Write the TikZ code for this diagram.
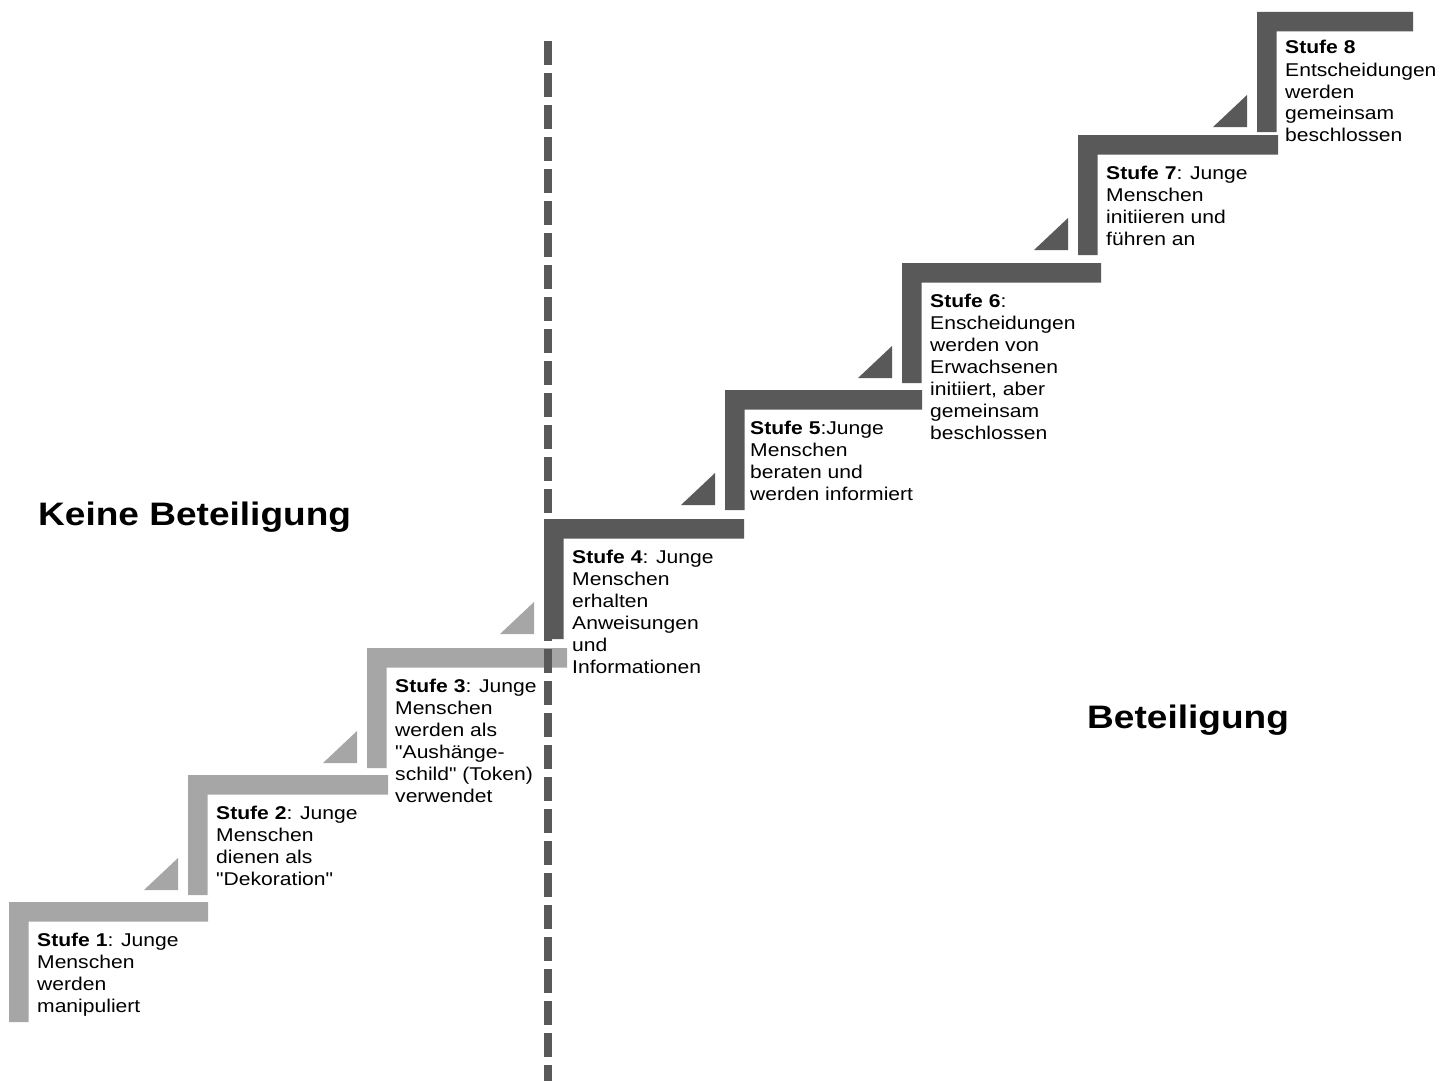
\documentclass[tikz,border=0pt]{standalone}
\usepackage{fontspec}
\setmainfont{Liberation Sans}[FakeStretch=1.14, Ligatures=TeXOff]
\definecolor{lightstep}{HTML}{A6A6A6}
\definecolor{darkstep}{HTML}{595959}
\tikzset{
  steptxt/.style={anchor=base west, inner sep=0pt},
  heading/.style={anchor=base west, inner sep=0pt, font=\fontsize{32.5}{38}\selectfont\bfseries},
  divider/.style={draw=darkstep, line width=8pt, dash pattern=on 24pt off 8pt},
}
% #1 X, #2 Y (top left), #3 bar length, #4 colour
\newcommand\stairbar[4]{%
  \fill[#4] (#1,#2) -- (#1+#3,#2) -- (#1+#3,#2+19.5) -- (#1+19.5,#2+19.5)
    -- (#1+19.5,#2+120) -- (#1,#2+120) -- cycle;}
\newcommand\stairtri[3]{%
  \fill[#3] (#1-44,#2+115) -- (#1-10,#2+115) -- (#1-10,#2+83) -- cycle;}
\newcommand\stairtext[4]{%
  \node[steptxt] (#3) at (#1+28,#2+44)
    {\parbox[t]{230pt}{\fontsize{18.5}{22}\selectfont\raggedright #4}};}
\begin{document}
\begin{tikzpicture}[x=1pt,y=-1pt]
  % steps (bars)
  \stairbar{9}{902}{199}{lightstep}
  \stairbar{188}{775}{200}{lightstep}
  \stairbar{367}{648}{200}{lightstep}
  \stairbar{544}{519}{200}{darkstep}
  \stairbar{725}{390}{197}{darkstep}
  \stairbar{902}{263}{199}{darkstep}
  \stairbar{1078}{135}{200}{darkstep}
  \stairbar{1257}{12}{156}{darkstep}
  % triangles
  \stairtri{188}{775}{lightstep}
  \stairtri{367}{648}{lightstep}
  \stairtri{544}{519}{lightstep}
  \stairtri{725}{390}{darkstep}
  \stairtri{902}{263}{darkstep}
  \stairtri{1078}{135}{darkstep}
  \stairtri{1257}{12}{darkstep}
  % dividing line
  \coordinate (dtop) at (548,41);
  \coordinate (dbot) at (548,1095);
  \draw[divider] (dtop) -- (dbot);
  % texts
  \stairtext{9}{902}{s1}{\textbf{Stufe 1}: Junge\\Menschen\\werden\\manipuliert}
  \stairtext{188}{775}{s2}{\textbf{Stufe 2}: Junge\\Menschen\\dienen als\\"Dekoration"}
  \stairtext{367}{648}{s3}{\textbf{Stufe 3}: Junge\\Menschen\\werden als\\"Aushänge-\\schild" (Token)\\verwendet}
  \stairtext{544}{519}{s4}{\textbf{Stufe 4}: Junge\\Menschen\\erhalten\\Anweisungen\\und\\Informationen}
  \stairtext{722}{390}{s5}{\textbf{Stufe 5}:Junge\\Menschen\\beraten und\\werden informiert}
  \stairtext{902}{263}{s6}{\textbf{Stufe 6}:\\Enscheidungen\\werden von\\Erwachsenen\\initiiert, aber\\gemeinsam\\beschlossen}
  \stairtext{1078}{135}{s7}{\textbf{Stufe 7}: Junge\\Menschen\\initiieren und\\führen an}
  \stairtext{1257}{10}{s8}{\textbf{Stufe 8}\\Entscheidungen\\werden\\gemeinsam\\beschlossen}
  % headings
  \node[heading] (keine) at (38,525) {Keine Beteiligung};
  \node[heading] (beteiligung) at (1087,728) {Beteiligung};
  \pgfresetboundingbox
  \useasboundingbox (0,0) rectangle (1453,1081);
\end{tikzpicture}
\end{document}
